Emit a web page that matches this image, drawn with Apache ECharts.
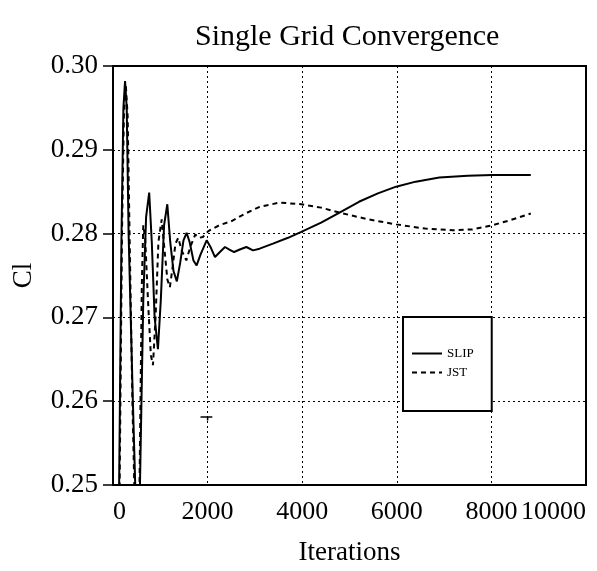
<!DOCTYPE html>
<html>
<head>
    <meta charset="utf-8">
    <title>Single Grid Convergence</title>
    <script src="https://cdn.jsdelivr.net/npm/echarts@6/dist/echarts.min.js"></script>
    <style>
        html, body { margin: 0; padding: 0; background: #fff; }
        #chart { width: 597px; height: 571px; }
    </style>
</head>
<body>
<div id="chart"></div>
<script>
    // [iteration, Cl]
    var slip = [
        [60, 0.230], [130, 0.250], [180, 0.280], [220, 0.2950], [255, 0.2982], [290, 0.2950],
        [330, 0.280], [420, 0.260], [470, 0.250], [520, 0.238], [570, 0.250], [640, 0.272],
        [700, 0.2820], [765, 0.2849], [820, 0.2790], [880, 0.2700], [950, 0.2662], [1010, 0.2720],
        [1080, 0.2810], [1148, 0.2835], [1210, 0.2790], [1280, 0.2755], [1350, 0.2743], [1420, 0.2765],
        [1490, 0.2792], [1556, 0.2801], [1620, 0.2790], [1700, 0.2768], [1768, 0.2762], [1850, 0.2775],
        [1980, 0.2792], [2070, 0.2783], [2156, 0.2772], [2260, 0.2778], [2368, 0.2784], [2460, 0.2781],
        [2560, 0.2778], [2680, 0.2781], [2820, 0.2784], [2960, 0.2780], [3100, 0.2782], [3382, 0.2788],
        [3700, 0.2795], [3981, 0.2802], [4400, 0.2813], [4789, 0.2825], [5200, 0.2838], [5600, 0.2848],
        [5985, 0.2856], [6400, 0.2862], [6899, 0.2867], [7500, 0.2869], [8024, 0.2870], [8833, 0.2870]
    ];
    var jst = [
        [60, 0.225], [140, 0.250], [190, 0.280], [230, 0.2940], [270, 0.2978], [310, 0.2940],
        [350, 0.280], [410, 0.260], [450, 0.250], [500, 0.238], [560, 0.250], [610, 0.274],
        [640, 0.2810], [680, 0.2795], [740, 0.2720], [800, 0.2655], [845, 0.2643], [900, 0.2700],
        [960, 0.2790], [1030, 0.2817], [1090, 0.2780], [1150, 0.2745], [1203, 0.2736], [1260, 0.2760],
        [1320, 0.2788], [1380, 0.2795], [1450, 0.2780], [1550, 0.2768], [1640, 0.2785], [1740, 0.2799],
        [1820, 0.2795], [1900, 0.2796], [2015, 0.2803], [2250, 0.2810], [2509, 0.2815], [2800, 0.2824],
        [3101, 0.2832], [3523, 0.2837], [3981, 0.2835], [4400, 0.2831], [4789, 0.2825], [5400, 0.2817],
        [5985, 0.2811], [6600, 0.2806], [7180, 0.2804], [7600, 0.2805], [8024, 0.2810], [8400, 0.2816],
        [8833, 0.2824]
    ];
    // small stray mark near 2000 / 0.258
    var strayMark = [[1850, 0.2581], [2000, 0.2581], [2000, 0.2577], [2000, 0.2581], [2100, 0.2581]];

    var seriesNames = ['SLIP', 'JST'];
    var xTicks = [0, 10000, 2000];      // min, max, step
    var yTicks = [0.25, 0.30, 0.01];

    var serif = 'Liberation Serif';
    var chart = echarts.init(document.getElementById('chart'), null, {renderer: 'canvas'});

    var option = {
        backgroundColor: '#fff',
        animation: false,
        title: {
            text: 'Single Grid Convergence',
            left: 190,
            top: 17,
            textStyle: {fontFamily: serif, fontSize: 30, fontWeight: 'normal', color: '#000'}
        },
        legend: {
            data: seriesNames,
            orient: 'vertical',
            left: 403,
            top: 317,
            padding: [30, 18, 32, 8],
            itemWidth: 30,
            itemHeight: 10,
            itemGap: 6,
            backgroundColor: '#fff',
            borderColor: '#000',
            borderWidth: 2,
            itemStyle: {opacity: 0},
            textStyle: {fontFamily: serif, fontSize: 13, color: '#000'}
        },
        grid: {
            left: 113,
            right: 11,
            top: 66,
            bottom: 86,
            outerBoundsMode: 'none',
            containLabel: false,
            show: true,
            borderColor: '#000',
            borderWidth: 2
        },
        xAxis: {
            type: 'value',
            min: xTicks[0],
            max: xTicks[1],
            interval: xTicks[2],
            name: 'Iterations',
            nameLocation: 'middle',
            nameGap: 54,
            nameTextStyle: {fontFamily: serif, fontSize: 27, color: '#000'},
            axisLine: {lineStyle: {color: '#000', width: 2}},
            axisTick: {show: false},
            axisLabel: {
                fontFamily: serif, fontSize: 26, color: '#000', margin: 14,
                showMinLabel: true, showMaxLabel: true, hideOverlap: false,
                alignMinLabel: 'left', alignMaxLabel: 'right',
                formatter: function (v) { return String(v); }
            },
            splitLine: {lineStyle: {color: '#000', type: [2, 3], width: 1}}
        },
        yAxis: {
            type: 'value',
            min: yTicks[0],
            max: yTicks[1],
            interval: yTicks[2],
            name: 'Cl',
            nameLocation: 'middle',
            nameRotate: 90,
            nameGap: 76,
            nameTextStyle: {fontFamily: serif, fontSize: 27, color: '#000'},
            axisLine: {lineStyle: {color: '#000', width: 2}},
            axisTick: {show: true, inside: false, length: 10, lineStyle: {color: '#000', width: 1.5}},
            axisLabel: {
                fontFamily: serif, fontSize: 27, color: '#000', margin: 15,
                formatter: function (v) { return v.toFixed(2); }
            },
            splitLine: {lineStyle: {color: '#000', type: [2, 3], width: 1}}
        },
        series: [
            {
                name: 'SLIP',
                type: 'line',
                data: slip,
                symbol: 'none',
                clip: true,
                lineStyle: {color: '#000', width: 2, type: 'solid'},
                itemStyle: {color: '#000'}
            },
            {
                name: 'JST',
                type: 'line',
                data: jst,
                symbol: 'none',
                clip: true,
                lineStyle: {color: '#000', width: 2, type: [5, 4]},
                itemStyle: {color: '#000'}
            },
            {
                name: 'mark',
                type: 'line',
                data: strayMark,
                symbol: 'none',
                lineStyle: {color: '#000', width: 1.5},
                silent: true
            }
        ]
    };
    chart.setOption(option);

    window.onresize = function () {
        chart.resize();
    };
</script>
</body>
</html>
